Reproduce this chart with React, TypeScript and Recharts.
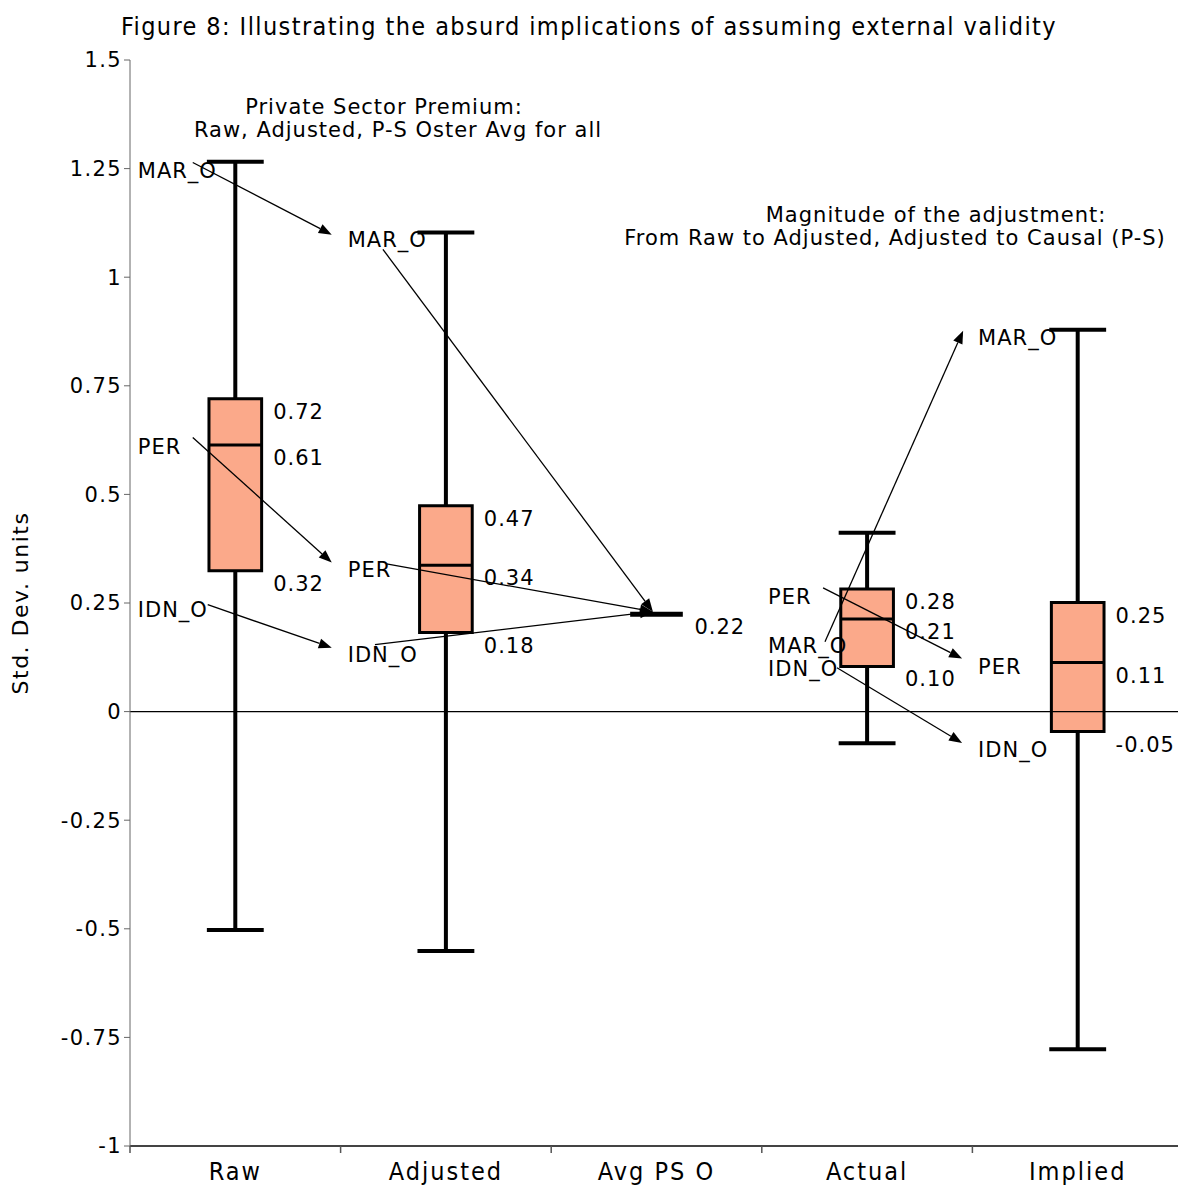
import React from "react";
import {
  ComposedChart,
  XAxis,
  YAxis,
  Scatter,
  ReferenceArea,
  ReferenceLine,
} from "recharts";

// box plot summaries, one entry per category
const categories = ["Raw", "Adjusted", "Avg PS O", "Actual", "Implied"];
const whiskerLow = [-0.503, -0.551, 0.224, -0.073, -0.777];
const q1 = [0.324, 0.182, 0.224, 0.104, -0.046];
const median = [0.614, 0.337, 0.224, 0.213, 0.113];
const q3 = [0.72, 0.474, 0.224, 0.282, 0.251];
const whiskerHigh = [1.266, 1.103, 0.224, 0.412, 0.879];

// country labels placed in data space
const countryX = [0.537, 0.537, 0.537, 1.534, 1.534, 1.534, 3.53, 3.53, 3.53, 4.527, 4.527, 4.527];
const countryY = [1.244, 0.608, 0.233, 1.085, 0.327, 0.13, 0.263, 0.152, 0.097, 0.102, 0.859, -0.088];
const countryNames = ["MAR_O", "PER", "IDN_O", "MAR_O", "PER", "IDN_O", "PER", "MAR_O", "IDN_O", "PER", "MAR_O", "IDN_O"];

// arrows between labels: [x0, y0, x1, y1]
const arrows: [number, number, number, number][] = [
  [0.798, 1.264, 1.458, 1.098],
  [0.798, 0.631, 1.458, 0.343],
  [0.869, 0.246, 1.458, 0.147],
  [1.701, 1.064, 2.983, 0.23],
  [1.718, 0.34, 2.983, 0.23],
  [1.663, 0.154, 2.983, 0.23],
  [3.791, 0.285, 4.451, 0.122],
  [3.857, 0.101, 4.451, -0.072],
  [3.8, 0.161, 4.456, 0.877],
];

const yTicks = [-1, -0.75, -0.5, -0.25, 0, 0.25, 0.5, 0.75, 1, 1.25, 1.5];
const xTicks = [0.5, 1, 1.5, 2, 2.5, 3, 3.5, 4, 4.5, 5];

const FONT = "'DejaVu Sans', Verdana, sans-serif";
const COND = "'DejaVu Sans Condensed', 'DejaVu Sans', sans-serif";
const BOX_HALF = 0.125;
const CAP_HALF = 0.135;
const LABEL_DX = 0.18;

const valueLabels = categories.flatMap((_, i) => {
  const c = i + 1;
  const vals = q1[i] === q3[i] ? [median[i]] : [q3[i], median[i], q1[i]];
  return vals.map((v) => ({ x: c + LABEL_DX, y: v, text: v.toFixed(2) }));
});

const countryPoints = countryNames.map((name, i) => ({
  x: countryX[i],
  y: countryY[i],
  text: name,
}));

const ValueText = (p: any) => (
  <text
    x={p.cx}
    y={p.cy + 13}
    dominantBaseline="central"
    fontFamily={FONT}
    fontSize={21}
    letterSpacing={1}
    fill="#000"
  >
    {p.payload.text}
  </text>
);

const CountryText = (p: any) => (
  <text
    x={p.cx}
    y={p.cy}
    dominantBaseline="central"
    fontFamily={FONT}
    fontSize={21}
    letterSpacing={1}
    fill="#000"
  >
    {p.payload.text}
  </text>
);

const Arrow = (p: any) => {
  const { x1, y1, x2, y2 } = p;
  const a = Math.atan2(y2 - y1, x2 - x1);
  const len = 13;
  const half = 5;
  const bx = x2 - len * Math.cos(a);
  const by = y2 - len * Math.sin(a);
  const pts = `${x2},${y2} ${bx - half * Math.sin(a)},${by + half * Math.cos(a)} ${
    bx + half * Math.sin(a)
  },${by - half * Math.cos(a)}`;
  return (
    <g>
      <line x1={x1} y1={y1} x2={bx} y2={by} stroke="#000" strokeWidth={1.3} />
      <polygon points={pts} fill="#000" />
    </g>
  );
};

const CategoryTick = (p: any) => {
  const v = p.payload.value;
  if (Number.isInteger(v)) {
    return (
      <text
        x={p.x}
        y={p.y + 27}
        textAnchor="middle"
        fontFamily={COND}
        fontStretch="condensed"
        fontSize={25}
        letterSpacing={2}
        fill="#000"
      >
        {categories[v - 1]}
      </text>
    );
  }
  return <line x1={p.x} y1={p.y - 7} x2={p.x} y2={p.y} stroke="#555" strokeWidth={1.5} />;
};

export default function App() {
  return (
    <div
      style={{
        position: "absolute",
        left: 0,
        top: 0,
        width: 1178,
        height: 1187,
        overflow: "hidden",
        background: "#fff",
      }}
    >
      <ComposedChart
        width={1183}
        height={1187}
        margin={{ top: 60, right: 0, bottom: 0, left: 0 }}
      >
        <XAxis
          type="number"
          dataKey="x"
          domain={[0.5, 5.5]}
          ticks={xTicks}
          tick={<CategoryTick />}
          tickLine={false}
          tickSize={7}
          tickMargin={0}
          height={41}
          stroke="#444"
          strokeWidth={2}
          interval={0}
        />
        <YAxis
          type="number"
          dataKey="y"
          domain={[-1, 1.5]}
          ticks={yTicks}
          width={130}
          tickSize={6}
          tickMargin={2}
          interval={0}
          stroke="#666"
          tick={{ fill: "#000", fontSize: 21, fontFamily: FONT, letterSpacing: 1.4 }}
          label={{
            value: "Std. Dev. units",
            angle: -90,
            position: "center",
            dx: -45,
            fill: "#000",
            fontSize: 22,
            fontFamily: FONT,
            letterSpacing: 1.5,
          }}
        />
        <ReferenceLine y={0} stroke="#000" strokeWidth={1.2} />

        {/* whiskers and caps */}
        {categories.map((cat, i) =>
          whiskerLow[i] === q1[i] ? null : (
            <ReferenceLine
              key={`wl-${cat}`}
              segment={[
                { x: i + 1, y: whiskerLow[i] },
                { x: i + 1, y: q1[i] },
              ]}
              stroke="#000"
              strokeWidth={4}
            />
          )
        )}
        {categories.map((cat, i) =>
          whiskerHigh[i] === q3[i] ? null : (
            <ReferenceLine
              key={`wh-${cat}`}
              segment={[
                { x: i + 1, y: q3[i] },
                { x: i + 1, y: whiskerHigh[i] },
              ]}
              stroke="#000"
              strokeWidth={4}
            />
          )
        )}
        {categories.flatMap((cat, i) =>
          whiskerLow[i] === q1[i]
            ? []
            : [whiskerLow[i], whiskerHigh[i]].map((v, k) => (
                <ReferenceLine
                  key={`cap-${cat}-${k}`}
                  segment={[
                    { x: i + 1 - CAP_HALF, y: v },
                    { x: i + 1 + CAP_HALF, y: v },
                  ]}
                  stroke="#000"
                  strokeWidth={4}
                />
              ))
        )}

        {/* boxes */}
        {categories.map((cat, i) => (
          <ReferenceArea
            key={`box-${cat}`}
            x1={i + 1 - BOX_HALF}
            x2={i + 1 + BOX_HALF}
            y1={q1[i]}
            y2={q3[i]}
            fill="#FBA98A"
            fillOpacity={1}
            stroke="#000"
            strokeWidth={3}
          />
        ))}
        {categories.map((cat, i) => (
          <ReferenceLine
            key={`med-${cat}`}
            segment={[
              { x: i + 1 - BOX_HALF, y: median[i] },
              { x: i + 1 + BOX_HALF, y: median[i] },
            ]}
            stroke="#000"
            strokeWidth={q1[i] === q3[i] ? 5 : 3}
          />
        ))}

        {/* arrows */}
        {arrows.map((a, i) => (
          <ReferenceLine
            key={`arrow-${i}`}
            segment={[
              { x: a[0], y: a[1] },
              { x: a[2], y: a[3] },
            ]}
            shape={Arrow}
          />
        ))}

        <Scatter data={valueLabels} shape={ValueText} isAnimationActive={false} />
        <Scatter data={countryPoints} shape={CountryText} isAnimationActive={false} />
      </ComposedChart>

      <svg
        width={1178}
        height={1187}
        style={{ position: "absolute", left: 0, top: 0, pointerEvents: "none" }}
      >
        <text
          x={589}
          y={35}
          textAnchor="middle"
          fontFamily={COND}
          fontStretch="condensed"
          fontSize={25}
          letterSpacing={1.4}
          fill="#000"
        >
          Figure 8: Illustrating the absurd implications of assuming external validity
        </text>
        <g fontFamily={FONT} fontSize={21} letterSpacing={1} fill="#000" textAnchor="middle">
          <text x={384} y={114}>Private Sector Premium:</text>
          <text x={398} y={137}>Raw, Adjusted, P-S Oster Avg for all</text>
          <text x={936} y={222}>Magnitude of the adjustment:</text>
          <text x={895} y={245}>From Raw to Adjusted, Adjusted to Causal (P-S)</text>
        </g>
      </svg>
    </div>
  );
}
